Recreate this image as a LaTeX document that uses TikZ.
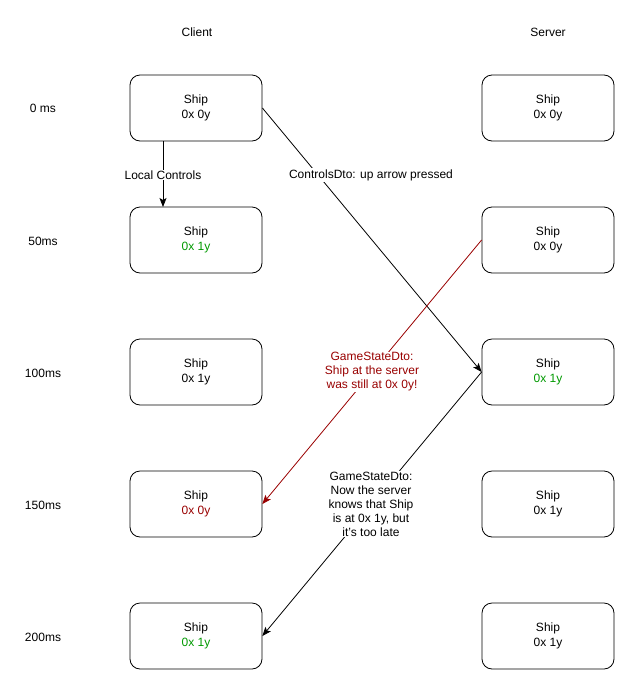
\documentclass[tikz,border=0pt]{standalone}
\usepackage{fontspec}
\setmainfont{Liberation Sans}
\usetikzlibrary{arrows.meta}
\definecolor{okgreen}{HTML}{009900}
\definecolor{badred}{HTML}{990000}
\begin{document}
\begin{tikzpicture}[x=1pt,y=-1pt,
  shipbox/.style={draw,line width=0.8pt,rounded corners=10pt,minimum width=132pt,minimum height=66pt,align=center,font=\fontsize{12pt}{15pt}\selectfont,inner sep=0pt},
  lbl/.style={font=\fontsize{12pt}{14pt}\selectfont,align=center,fill=white,inner sep=1pt},
  small/.style={font=\fontsize{12pt}{14pt}\selectfont,align=center,fill=white,inner sep=1pt},
  conn/.style={line width=0.8pt,-{Stealth[length=9pt,width=7pt,inset=2pt]}}]
\useasboundingbox (0,0) rectangle (636,691);
\node[lbl] (client) at (197,32) {Client};
\node[lbl] (server) at (548,32) {Server};
\foreach \t/\y [count=\i] in {0 ms/108,50ms/241,100ms/373,150ms/505,200ms/637}
  \node[lbl] (t\i) at (43,\y) {\t};
\node[shipbox] (c1) at (196,108) {Ship\\0x 0y};
\node[shipbox] (c2) at (196,240) {Ship\\\textcolor{okgreen}{0x 1y}};
\node[shipbox] (c3) at (196,372) {Ship\\0x 1y};
\node[shipbox] (c4) at (196,504) {Ship\\\textcolor{badred}{0x 0y}};
\node[shipbox] (c5) at (196,636) {Ship\\\textcolor{okgreen}{0x 1y}};
\node[shipbox] (s1) at (548,108) {Ship\\0x 0y};
\node[shipbox] (s2) at (548,240) {Ship\\0x 0y};
\node[shipbox] (s3) at (548,372) {Ship\\\textcolor{okgreen}{0x 1y}};
\node[shipbox] (s4) at (548,504) {Ship\\0x 1y};
\node[shipbox] (s5) at (548,636) {Ship\\0x 1y};
\coordinate (a1) at (163,141);
\coordinate (a2) at (163,207);
\draw[conn] (a1) -- (a2);
\draw[conn] (c1.east) -- (s3.west);
\draw[conn,badred] (s2.west) -- (c4.east);
\draw[conn] (s3.west) -- (c5.east);
\node[small] (l1) at (163,175) {Local Controls};
\node[small] (l2) at (371,175) {ControlsDto: up arrow pressed};
\node[small,text=badred] (l3) at (372,372) {GameStateDto:\\Ship at the server\\was still at 0x 0y!};
\node[small] (l4) at (371,504) {GameStateDto:\\Now the server\\knows that Ship\\is at 0x 1y, but\\it's too late};
\end{tikzpicture}
\end{document}
